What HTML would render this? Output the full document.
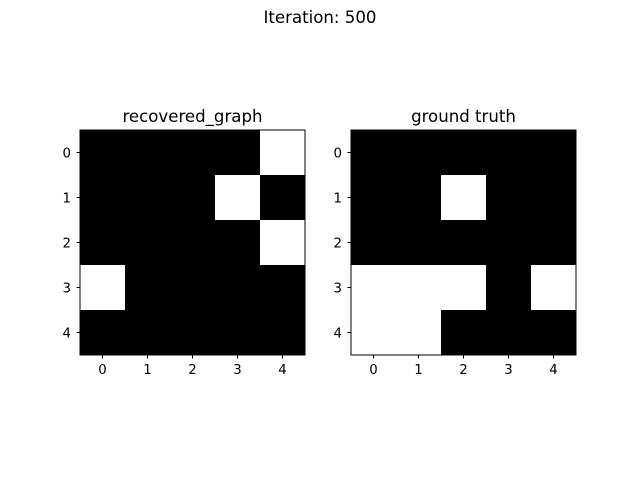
<!DOCTYPE html>
<html><head><meta charset="utf-8"><style>
body{margin:0;background:#fff}
svg{display:block;font-family:"DejaVu Sans","Liberation Sans",sans-serif}
</style></head><body>
<svg id="fig" width="640" height="480">
<text x="320" y="23" text-anchor="middle" font-size="16.6">Iteration: 500</text>
</svg>
<script>
const leftTitle = "recovered_graph";
const rightTitle = "ground truth";
const tickLabels = ["0","1","2","3","4"];
const recovered = [
 [0,0,0,0,1],
 [0,0,0,1,0],
 [0,0,0,0,1],
 [1,0,0,0,0],
 [0,0,0,0,0]
];
const truth = [
 [0,0,0,0,0],
 [0,0,1,0,0],
 [0,0,0,0,0],
 [1,1,1,0,1],
 [1,1,0,0,0]
];
const NS="http://www.w3.org/2000/svg";
const svg=document.getElementById('fig');
function mk(tag,attrs,parent){const e=document.createElementNS(NS,tag);for(const k in attrs)e.setAttribute(k,attrs[k]);(parent||svg).appendChild(e);return e;}
function panel(x0,y0,size,mat,title,prefix){
  const g=mk('g',{});
  
  
  const n=mat.length, c=size/n;
  const sx=i=>x0+i*c, sy=j=>y0+j*c;
  for(let r=0;r<n;r++)for(let k=0;k<n;k++){
    const rc=mk('rect',{x:sx(k),y:sy(r),width:c+0.5,height:c+0.5,fill:mat[r][k]?'#fff':'#000'},g);
    
    
  }
  const fr=mk('rect',{x:x0,y:y0,width:size,height:size,fill:'none',stroke:'#000','stroke-width':1},g);
  
  
  const t=mk('text',{x:x0+size/2,y:y0-8,'text-anchor':'middle','font-size':16.6},g);
  t.textContent=title;
  
  
  tickLabels.forEach((lab,i)=>{
    const cx=sx(i)+c/2, cy=sy(i)+c/2;
    mk('line',{x1:cx,y1:y0+size,x2:cx,y2:y0+size+3.5,stroke:'#000'},g);
    const tx=mk('text',{x:cx,y:y0+size+19,'text-anchor':'middle','font-size':13.3},g);
    tx.textContent=lab;
    
    
    mk('line',{x1:x0,y1:cy,x2:x0-3.5,y2:cy,stroke:'#000'},g);
    const ty=mk('text',{x:x0-9,y:cy+5,'text-anchor':'end','font-size':13.3},g);
    ty.textContent=lab;
    
    
  });
}
panel(80,130,225,recovered,leftTitle,'recovered');
panel(351,130,225,truth,rightTitle,'truth');
</script>
</body></html>
